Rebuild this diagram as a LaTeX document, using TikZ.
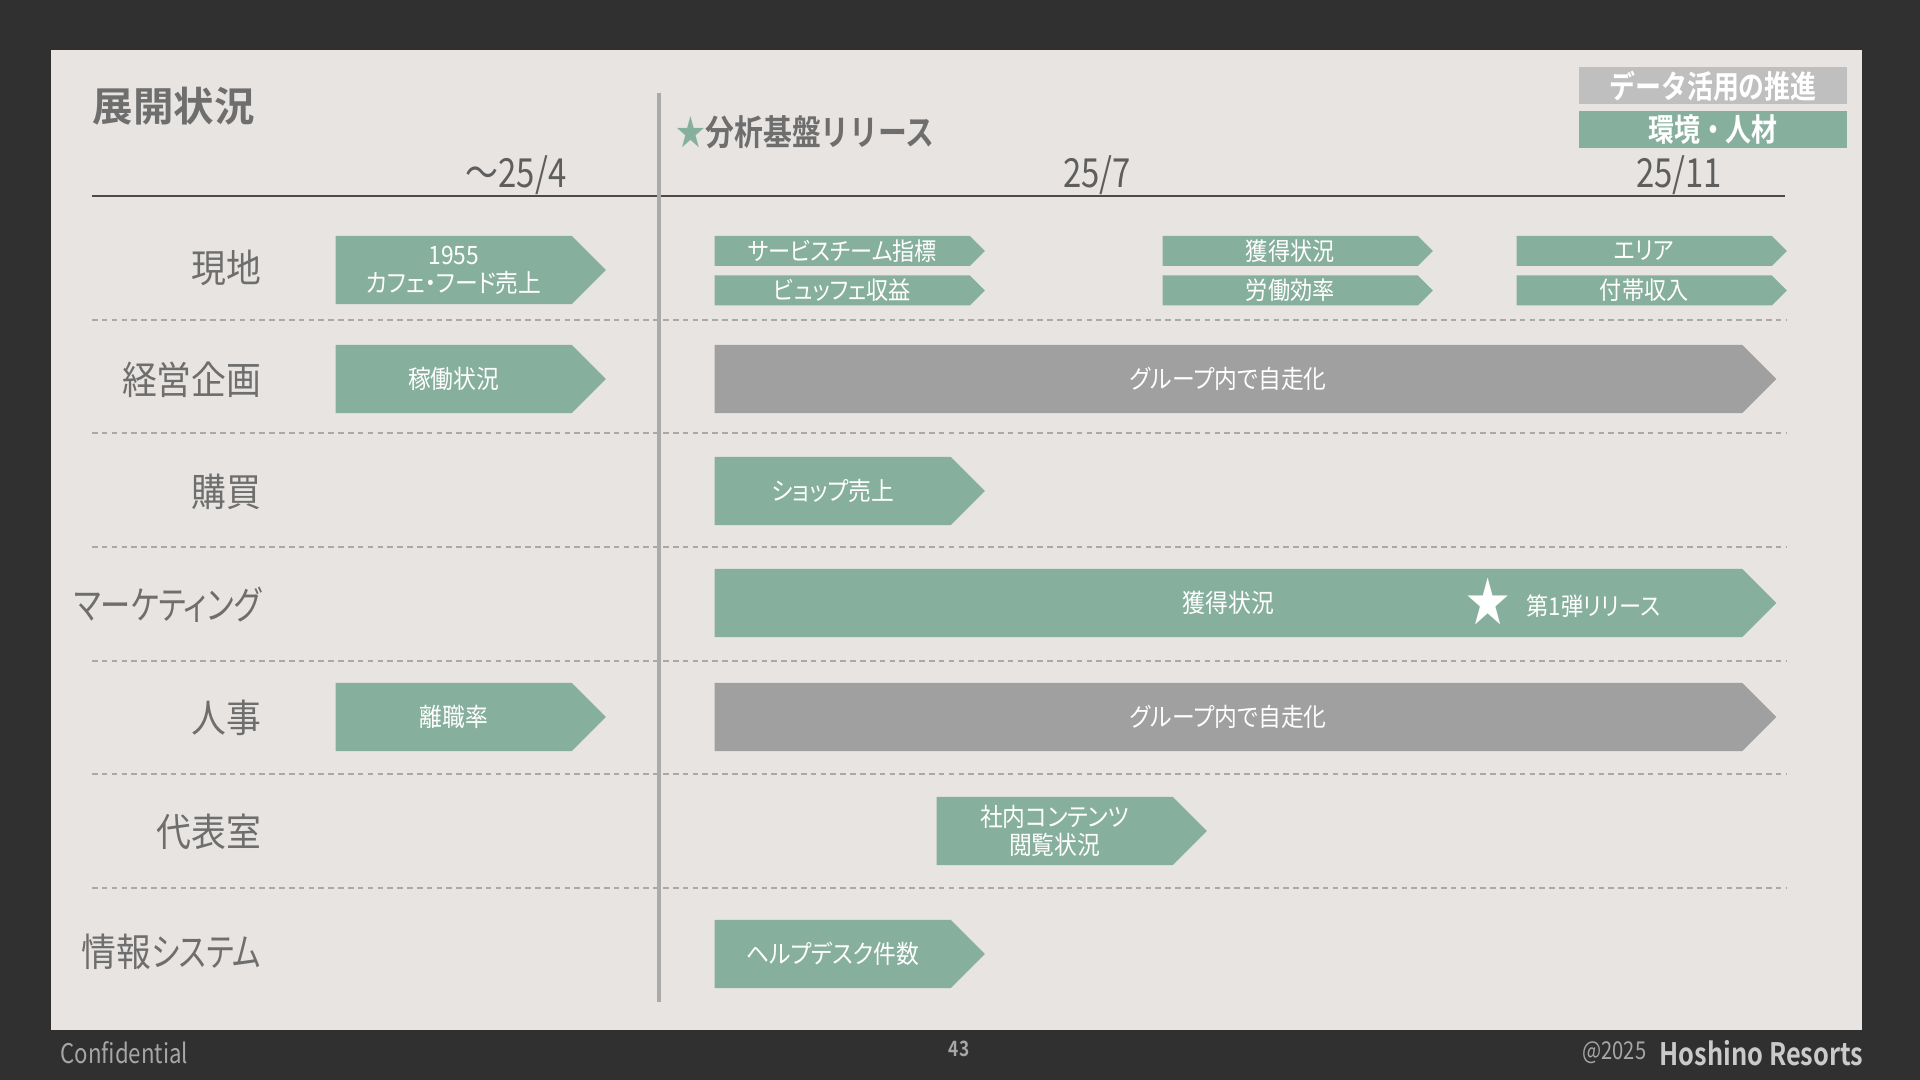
\documentclass[tikz,border=0pt]{standalone}
\usepackage{fontspec}
\setmainfont{Noto Sans CJK JP}[FakeStretch=0.9,RawFeature=+palt,BoldFont={Noto Sans CJK JP Bold}]
\newfontfamily\numfont{Noto Sans CJK JP}[FakeStretch=0.82,BoldFont={Noto Sans CJK JP Bold}]
\newfontfamily\kanafont{Noto Sans CJK JP}[FakeStretch=0.78,RawFeature=+palt]
\newfontfamily\titlefont{Noto Sans CJK JP Bold}
\usetikzlibrary{shapes.symbols,positioning}
\definecolor{slate}{HTML}{303030}
\definecolor{paper}{HTML}{E7E4E1}
\definecolor{sage}{HTML}{87AF9E}
\definecolor{stone}{HTML}{A0A0A0}
\definecolor{tagrey}{HTML}{BFBFBF}
\definecolor{labgrey}{HTML}{6E6E6E}
\definecolor{dategrey}{HTML}{5E5E5E}
\definecolor{sepgrey}{HTML}{A9A9A9}
\definecolor{footgrey}{HTML}{A6A6A6}

\begin{document}
\begin{tikzpicture}[x=0.01cm, y=-0.01cm,
  chev/.style={shape=signal, signal to=east, signal pointer angle=90, fill=sage,
               text=white, inner sep=0pt, anchor=west, minimum width=2.7cm,
               minimum height=0.68cm, align=center,
               font=\fontsize{7.2pt}{8pt}\selectfont},
  chevs/.style={chev, minimum height=0.3cm, font=\fontsize{7pt}{8pt}\selectfont},
  widechev/.style={chev, minimum width=10.61cm},
  selfrun/.style={widechev, fill=stone},
  rowlab/.style={anchor=east, inner sep=0pt, text=labgrey, font=\fontsize{11pt}{12pt}\selectfont},
  datelab/.style={text=dategrey, font=\numfont\fontsize{11.4pt}{13pt}\selectfont},
  sep/.style={draw=sepgrey, line width=0.35pt, dash pattern=on 1.6pt off 1.2pt},
  tag/.style={text=white, minimum width=2.67cm, minimum height=0.37cm, inner sep=0pt,
              font=\numfont\bfseries\fontsize{9pt}{10pt}\selectfont}
]
\useasboundingbox (0,0) rectangle (1920,1080);
\fill[slate] (0,0) rectangle (1920,1080);
\fill[paper] (51,50) rectangle (1862,1030);

\node[anchor=west, inner sep=0pt, text=labgrey, font=\titlefont\fontsize{11.5pt}{13pt}\selectfont] (title) at (92,106) {展開状況};
\node[anchor=west, inner sep=0pt, text=labgrey, font=\numfont\bfseries\fontsize{10pt}{12pt}\selectfont] (release) at (676,132) {{\color{sage}★}分析基盤リリース};

\node[tag, fill=tagrey] (tagdata) at (1713,86) {データ活用の推進};
\node[tag, fill=sage] (tagenv) at (1713,130) {環境・人材};

\node[datelab] (d1) at (516,175) {～25/4};
\node[datelab] (d2) at (1097,175) {25/7};
\node[datelab] (d3) at (1679,175) {25/11};

\draw[draw=dategrey!80!black, line width=0.6pt] (92,196) -- (1785,196);
\foreach \y in {320,433,547,661,774,888}
  \draw[sep] (92,\y) -- (1786,\y);
\draw[draw=stone!90!white, line width=1.15pt] (659,93) -- (659,1002);

\node[rowlab] (r1) at (262,268) {現地};
\node[rowlab] (r2) at (262,380) {経営企画};
\node[rowlab] (r3) at (262,492) {購買};
\node[rowlab] (r4) at (262,605) {\kanafont マーケティング};
\node[rowlab] (r5) at (262,718) {人事};
\node[rowlab] (r6) at (262,832) {代表室};
\node[rowlab] (r7) at (262,952) {情報{\kanafont システム}};

\node[chev] (cafe) at (335,270) {1955\\カフェ・フード売上};
\node[chevs] (svc) at (714,251) {サービスチーム指標};
\node[chevs, below=0.08cm of svc] (buffet) {ビュッフェ収益};
\node[chevs] (gain) at (1162,251) {獲得状況};
\node[chevs, below=0.08cm of gain] (labor) {労働効率};
\node[chevs] (area) at (1516,251) {エリア};
\node[chevs, below=0.08cm of area] (extra) {付帯収入};

\node[chev] (uptime) at (335,379) {稼働状況};
\node[selfrun] (own1) at (714,379) {グループ内で自走化};

\node[chev] (shop) at (714,491) {ショップ売上};

\node[widechev] (acq) at (714,603) {獲得状況};
\node[text=white, font=\numfont\fontsize{15pt}{16pt}\selectfont] (star) at (1488,602) {★};
\node[anchor=west, text=white, inner sep=0pt, font=\fontsize{7pt}{8pt}\selectfont] (first) at (1526,606) {第1弾リリース};

\node[chev] (leave) at (335,717) {離職率};
\node[selfrun] (own2) at (714,717) {グループ内で自走化};

\node[chev] (content) at (936,831) {社内コンテンツ\\閲覧状況};

\node[chev] (help) at (714,954) {ヘルプデスク件数};

\node[anchor=west, inner sep=0pt, text=footgrey, font=\numfont\fontsize{7.7pt}{8pt}\selectfont] (conf) at (60,1053) {Confidential};
\node[text=footgrey, font=\numfont\bfseries\fontsize{6pt}{7pt}\selectfont] (page) at (959,1049) {43};
\node[anchor=east, inner sep=0pt, text=footgrey!60!white, font=\numfont\bfseries\fontsize{8.8pt}{9pt}\selectfont] (brand) at (1864,1053) {Hoshino Resorts};
\node[left=0.12cm of brand, inner sep=0pt, text=footgrey, font=\numfont\fontsize{7pt}{8pt}\selectfont] (year) {@2025};
\end{tikzpicture}
\end{document}
